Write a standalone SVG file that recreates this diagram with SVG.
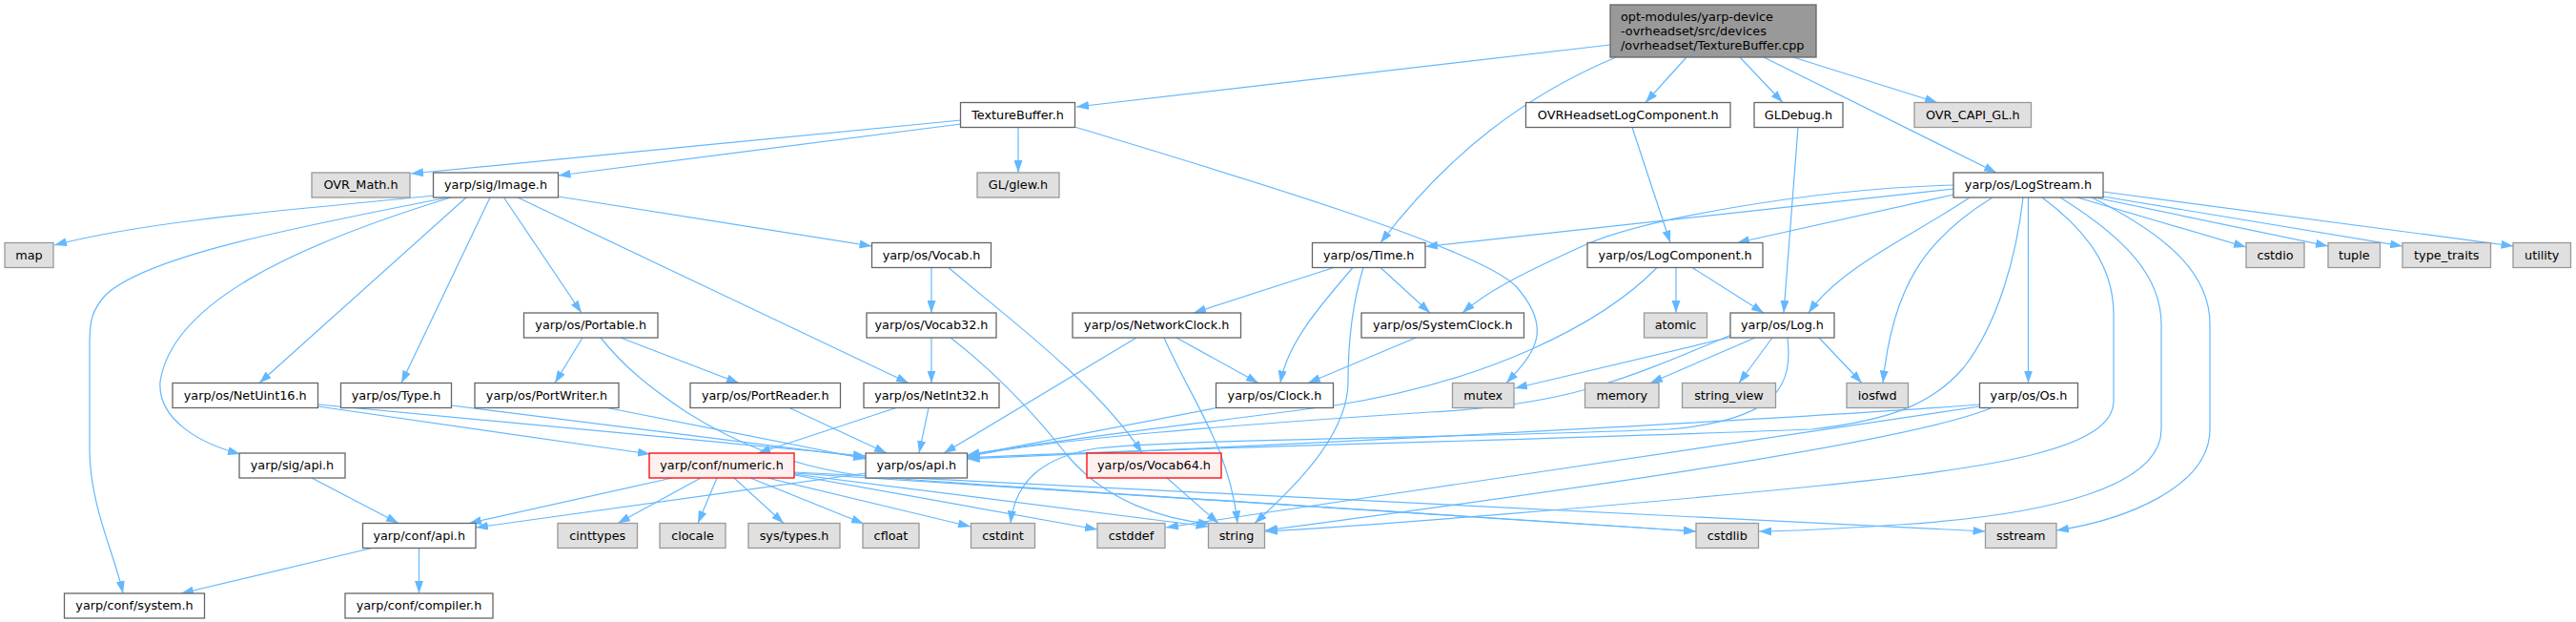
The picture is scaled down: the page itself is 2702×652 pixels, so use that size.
<svg xmlns="http://www.w3.org/2000/svg" width="2702" height="652" viewBox="0 0 2702 652">
<defs>
<marker id="ah" markerUnits="userSpaceOnUse" markerWidth="13" markerHeight="9" refX="13" refY="4.5" orient="auto" viewBox="0 0 13 9"><path d="M0,0 L13,4.5 L0,9 z" fill="#63b8ff"/></marker>
</defs>
<style>
.e path{fill:none;stroke:#63b8ff;stroke-width:1.2;marker-end:url(#ah)}
.n rect{fill:#ffffff;stroke:#666666;stroke-width:1.3}
.g rect{fill:#e0e0e0;stroke:#999999;stroke-width:1.3}
.r rect{fill:#fff0f0;stroke:#ff0000;stroke-width:1.3}
.s rect{fill:#999999;stroke:#666666;stroke-width:1.3}
text{font-family:"DejaVu Sans",sans-serif;font-size:12.8px;fill:#000000}
.c{text-anchor:middle}
</style>
<rect width="2702" height="652" fill="#ffffff"/>
<g id="connectors" class="e">
<path d="M1689,47 L1129,112"/>
<path d="M1695,60 C1600,100 1520,160 1448,254.5"/>
<path d="M1769,60 L1726,107.5"/>
<path d="M1825,60 L1870,107.5"/>
<path d="M1850,60 L2094,181"/>
<path d="M1881,60 L2032,107.5"/>
<path d="M1008,126 L431,182"/>
<path d="M1008,130 L585.5,184"/>
<path d="M1068,133.5 L1068,181"/>
<path d="M1127,133 C1300,185 1550,260 1590,300 C1630,345 1610,370 1580,401.5"/>
<path d="M455,205 C330,218 160,230 57,257"/>
<path d="M470,207 C300,240 150,270 110,310 C97,325 94,335 94,360 L94,470 C94,530 120,580 129,622"/>
<path d="M473,207 C300,260 180,320 168,400 C165,440 210,465 252,476"/>
<path d="M489,207 L272,401.5"/>
<path d="M514,207 L421,401.5"/>
<path d="M528.5,207 L610,328"/>
<path d="M543,207 L953,401.5"/>
<path d="M585.5,206 L914.5,258"/>
<path d="M977,280.5 L977,328"/>
<path d="M995,280.5 C1040,320 1150,400 1198,475"/>
<path d="M977,354 L977,401.5"/>
<path d="M997,354 C1050,395 1090,440 1120,478 C1160,525 1220,545 1270,549"/>
<path d="M1224,501 L1278,548.5"/>
<path d="M940,427.5 L795,475"/>
<path d="M974,427.5 L964,475"/>
<path d="M333.5,426 L682,476"/>
<path d="M333.5,424 L908,478"/>
<path d="M473.5,425 L908,479.5"/>
<path d="M637,427.5 L908,481"/>
<path d="M828,427.5 L930,475"/>
<path d="M611,354 L582,401.5"/>
<path d="M651,354 L775,401.5"/>
<path d="M630,354 C655,385 680,405 720,432 C780,470 840,490 900,498 C1000,508 1300,525 1779,557"/>
<path d="M1399,280.5 L1252,328"/>
<path d="M1419,280.5 C1385,320 1350,360 1343,401.5"/>
<path d="M1430,280.5 C1418,320 1414,360 1414,400 C1414,450 1370,500 1316,548.5"/>
<path d="M1448,280.5 L1500,328"/>
<path d="M1192,354 L990,475"/>
<path d="M1234,354 L1320,401.5"/>
<path d="M1221,354 C1250,420 1290,470 1298,548.5"/>
<path d="M1485,354 L1372,401.5"/>
<path d="M1276,427.5 L1014.5,478"/>
<path d="M1775,280.5 L1850,328"/>
<path d="M1758,280.5 L1758,328"/>
<path d="M1738,280.5 C1680,340 1560,400 1400,425 C1250,445 1100,462 1014.5,477"/>
<path d="M1712,133.5 L1752,254.5"/>
<path d="M1886,133.5 L1871,328"/>
<path d="M2049,194 C1900,198 1720,230 1660,258 C1600,285 1560,305 1534,328"/>
<path d="M2049,198 L1495,258.5"/>
<path d="M2049,204 L1822,254.5"/>
<path d="M2066,207 C2010,245 1930,280 1897,328"/>
<path d="M2090,207 C2020,250 1985,300 1975,401.5"/>
<path d="M2122,207 C2115,270 2095,340 2060,385 C2030,420 1990,440 1900,450 C1600,462 1200,470 1014.5,480"/>
<path d="M2127.5,207 L2127.5,401.5"/>
<path d="M2142,207 C2200,250 2217,290 2217,330 L2217,420 C2217,470 2100,490 1900,510 C1700,530 1450,550 1327,557"/>
<path d="M2161,207 C2230,250 2267,290 2267,340 L2267,450 C2267,510 2150,540 1992,550 C1930,554 1880,557 1845,557"/>
<path d="M2194,207 C2280,250 2318,290 2318,340 L2318,450 C2318,510 2230,545 2157,556"/>
<path d="M2179,207 L2356,259"/>
<path d="M2197,207 L2442,258"/>
<path d="M2206,206 L2520,258"/>
<path d="M2206,201 L2636.5,258"/>
<path d="M1817,353 L1589,407"/>
<path d="M1841,354 L1731,401.5"/>
<path d="M1859,354 L1824,401.5"/>
<path d="M1908,354 L1953,401.5"/>
<path d="M1816,351 C1700,400 1640,425 1500,432 C1300,445 1100,460 1014.5,479"/>
<path d="M1875,354 C1880,400 1870,440 1750,450 C1500,460 1250,460 1150,470 C1100,478 1065,500 1060,548.5"/>
<path d="M2077,424 C1950,434 1500,460 1014.5,481"/>
<path d="M2077,426 L1223,553"/>
<path d="M2089,427.5 C2000,465 1600,520 1327,556"/>
<path d="M705,501 L492,548.5"/>
<path d="M735,501 L648,548.5"/>
<path d="M752,501 L732,548.5"/>
<path d="M770,501 L822,548.5"/>
<path d="M787,501 L906,549"/>
<path d="M805,501 L1018,552"/>
<path d="M833,498 L1151,555"/>
<path d="M833,497 L1267.5,552"/>
<path d="M833,496 L1779,557"/>
<path d="M833,495 L2082.5,557"/>
<path d="M908,496 L499,553"/>
<path d="M327,501 L418,548.5"/>
<path d="M390,574.5 L190,622"/>
<path d="M439.5,574.5 L439.5,622"/>
</g>
<g id="src" class="s"><rect x="1689" y="5" width="216" height="55"/><text x="1700" y="21.5">opt-modules/yarp-device</text><text x="1700" y="36.5">-ovrheadset/src/devices</text><text x="1700" y="51.5">/ovrheadset/TextureBuffer.cpp</text></g>
<g id="texturebuffer_h" class="n"><rect x="1007.5" y="107.5" width="120" height="26"/><text class="c" x="1067.5" y="124.9">TextureBuffer.h</text></g>
<g id="ovrheadsetlogcomponent_h" class="n"><rect x="1600.5" y="107.5" width="214.5" height="26"/><text class="c" x="1707.75" y="124.9">OVRHeadsetLogComponent.h</text></g>
<g id="gldebug_h" class="n"><rect x="1840" y="107.5" width="93" height="26"/><text class="c" x="1886.5" y="124.9">GLDebug.h</text></g>
<g id="ovr_capi_gl_h" class="g"><rect x="2008" y="107.5" width="122.5" height="26"/><text class="c" x="2069.25" y="124.9">OVR_CAPI_GL.h</text></g>
<g id="ovr_math_h" class="g"><rect x="327" y="181" width="103" height="26"/><text class="c" x="378.5" y="198.4">OVR_Math.h</text></g>
<g id="sig_image_h" class="n"><rect x="454.5" y="181" width="131" height="26"/><text class="c" x="520" y="198.4">yarp/sig/Image.h</text></g>
<g id="gl_glew_h" class="g"><rect x="1025" y="181" width="86" height="26"/><text class="c" x="1068" y="198.4">GL/glew.h</text></g>
<g id="os_logstream_h" class="n"><rect x="2049" y="181" width="157" height="26"/><text class="c" x="2127.5" y="198.4">yarp/os/LogStream.h</text></g>
<g id="map" class="g"><rect x="5" y="254.5" width="51" height="26"/><text class="c" x="30.5" y="271.9">map</text></g>
<g id="os_vocab_h" class="n"><rect x="914.5" y="254.5" width="125" height="26"/><text class="c" x="977" y="271.9">yarp/os/Vocab.h</text></g>
<g id="os_time_h" class="n"><rect x="1376.5" y="254.5" width="118.5" height="26"/><text class="c" x="1435.75" y="271.9">yarp/os/Time.h</text></g>
<g id="os_logcomponent_h" class="n"><rect x="1665" y="254.5" width="184" height="26"/><text class="c" x="1757" y="271.9">yarp/os/LogComponent.h</text></g>
<g id="cstdio" class="g"><rect x="2356" y="254.5" width="61" height="26"/><text class="c" x="2386.5" y="271.9">cstdio</text></g>
<g id="tuple" class="g"><rect x="2442" y="254.5" width="54.5" height="26"/><text class="c" x="2469.25" y="271.9">tuple</text></g>
<g id="type_traits" class="g"><rect x="2520" y="254.5" width="92.5" height="26"/><text class="c" x="2566.25" y="271.9">type_traits</text></g>
<g id="utility" class="g"><rect x="2636" y="254.5" width="60.5" height="26"/><text class="c" x="2666.25" y="271.9">utility</text></g>
<g id="os_portable_h" class="n"><rect x="549.5" y="328" width="140.5" height="26"/><text class="c" x="619.75" y="345.4">yarp/os/Portable.h</text></g>
<g id="os_vocab32_h" class="n"><rect x="909" y="328" width="136" height="26"/><text class="c" x="977" y="345.4">yarp/os/Vocab32.h</text></g>
<g id="os_networkclock_h" class="n"><rect x="1125" y="328" width="176.5" height="26"/><text class="c" x="1213.25" y="345.4">yarp/os/NetworkClock.h</text></g>
<g id="os_systemclock_h" class="n"><rect x="1428" y="328" width="170.5" height="26"/><text class="c" x="1513.25" y="345.4">yarp/os/SystemClock.h</text></g>
<g id="atomic" class="g"><rect x="1724.5" y="328" width="66" height="26"/><text class="c" x="1757.5" y="345.4">atomic</text></g>
<g id="os_log_h" class="n"><rect x="1815" y="328" width="109" height="26"/><text class="c" x="1869.5" y="345.4">yarp/os/Log.h</text></g>
<g id="os_netuint16_h" class="n"><rect x="181" y="401.5" width="152.5" height="26"/><text class="c" x="257.25" y="418.9">yarp/os/NetUint16.h</text></g>
<g id="os_type_h" class="n"><rect x="357.5" y="401.5" width="116" height="26"/><text class="c" x="415.5" y="418.9">yarp/os/Type.h</text></g>
<g id="os_portwriter_h" class="n"><rect x="498" y="401.5" width="151" height="26"/><text class="c" x="573.5" y="418.9">yarp/os/PortWriter.h</text></g>
<g id="os_portreader_h" class="n"><rect x="724" y="401.5" width="157.5" height="26"/><text class="c" x="802.75" y="418.9">yarp/os/PortReader.h</text></g>
<g id="os_netint32_h" class="n"><rect x="906" y="401.5" width="142" height="26"/><text class="c" x="977" y="418.9">yarp/os/NetInt32.h</text></g>
<g id="os_clock_h" class="n"><rect x="1275.5" y="401.5" width="123" height="26"/><text class="c" x="1337" y="418.9">yarp/os/Clock.h</text></g>
<g id="mutex" class="g"><rect x="1523.5" y="401.5" width="64.5" height="26"/><text class="c" x="1555.75" y="418.9">mutex</text></g>
<g id="memory" class="g"><rect x="1662.5" y="401.5" width="77.5" height="26"/><text class="c" x="1701.25" y="418.9">memory</text></g>
<g id="string_view" class="g"><rect x="1764.5" y="401.5" width="98" height="26"/><text class="c" x="1813.5" y="418.9">string_view</text></g>
<g id="iosfwd" class="g"><rect x="1937" y="401.5" width="64.5" height="26"/><text class="c" x="1969.25" y="418.9">iosfwd</text></g>
<g id="os_os_h" class="n"><rect x="2076.5" y="401.5" width="103" height="26"/><text class="c" x="2128" y="418.9">yarp/os/Os.h</text></g>
<g id="sig_api_h" class="n"><rect x="251" y="475" width="111" height="26"/><text class="c" x="306.5" y="492.4">yarp/sig/api.h</text></g>
<g id="conf_numeric_h" class="r"><rect x="681" y="475" width="152" height="26"/><text class="c" x="757" y="492.4">yarp/conf/numeric.h</text></g>
<g id="os_api_h" class="n"><rect x="908" y="475" width="106.5" height="26"/><text class="c" x="961.25" y="492.4">yarp/os/api.h</text></g>
<g id="os_vocab64_h" class="r"><rect x="1140" y="475" width="141" height="26"/><text class="c" x="1210.5" y="492.4">yarp/os/Vocab64.h</text></g>
<g id="conf_api_h" class="n"><rect x="380.5" y="548.5" width="118.5" height="26"/><text class="c" x="439.75" y="565.9">yarp/conf/api.h</text></g>
<g id="cinttypes" class="g"><rect x="585" y="548.5" width="83.5" height="26"/><text class="c" x="626.75" y="565.9">cinttypes</text></g>
<g id="clocale" class="g"><rect x="692" y="548.5" width="69" height="26"/><text class="c" x="726.5" y="565.9">clocale</text></g>
<g id="sys_types_h" class="g"><rect x="785" y="548.5" width="96" height="26"/><text class="c" x="833" y="565.9">sys/types.h</text></g>
<g id="cfloat" class="g"><rect x="905" y="548.5" width="59" height="26"/><text class="c" x="934.5" y="565.9">cfloat</text></g>
<g id="cstdint" class="g"><rect x="1018.5" y="548.5" width="67" height="26"/><text class="c" x="1052" y="565.9">cstdint</text></g>
<g id="cstddef" class="g"><rect x="1151" y="548.5" width="71" height="26"/><text class="c" x="1186.5" y="565.9">cstddef</text></g>
<g id="string" class="g"><rect x="1267.5" y="548.5" width="59" height="26"/><text class="c" x="1297" y="565.9">string</text></g>
<g id="cstdlib" class="g"><rect x="1779" y="548.5" width="65.5" height="26"/><text class="c" x="1811.75" y="565.9">cstdlib</text></g>
<g id="sstream" class="g"><rect x="2082.5" y="548.5" width="74.5" height="26"/><text class="c" x="2119.75" y="565.9">sstream</text></g>
<g id="conf_system_h" class="n"><rect x="67.5" y="622" width="147" height="26"/><text class="c" x="141" y="639.4">yarp/conf/system.h</text></g>
<g id="conf_compiler_h" class="n"><rect x="362" y="622" width="155" height="26"/><text class="c" x="439.5" y="639.4">yarp/conf/compiler.h</text></g>
</svg>
